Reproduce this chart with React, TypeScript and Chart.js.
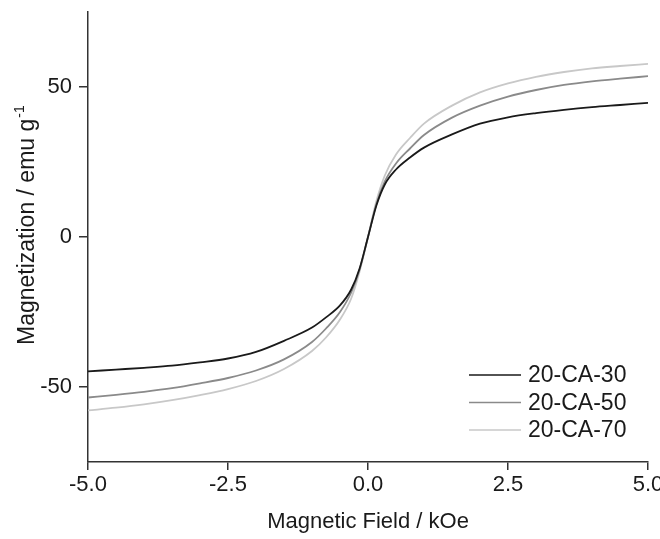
import React, { useEffect, useRef } from "react";
import { Chart, registerables } from "chart.js";

Chart.register(...registerables);

const FIELD = [-5, -4.5, -4, -3.5, -3, -2.5, -2, -1.5, -1, -0.75, -0.5, -0.3, -0.15, 0, 0.15, 0.3, 0.5, 0.75, 1, 1.5, 2, 2.5, 3, 3.5, 4, 4.5, 5];
const CA30 = [-44.8, -44.2, -43.6, -42.9, -41.8, -40.5, -38.3, -34.6, -30.2, -26.8, -22.8, -17.5, -10.5, 0, 10.5, 17.5, 22.5, 26.5, 29.8, 34.2, 37.8, 39.9, 41.3, 42.4, 43.3, 44.0, 44.7];
const CA50 = [-53.5, -52.6, -51.6, -50.4, -48.8, -47.0, -44.5, -40.8, -35.0, -30.5, -25.0, -18.5, -10.8, 0, 11, 18.5, 24.5, 29.5, 34, 39.8, 43.8, 46.8, 49, 50.7, 51.9, 52.8, 53.6];
const CA70 = [-57.8, -56.9, -55.8, -54.4, -52.7, -50.7, -48.0, -44.0, -38.0, -33.5, -27.5, -20.5, -11.5, 0, 12, 20.5, 27.5, 33, 37.8, 43.8, 48.2, 51.2, 53.4, 55.0, 56.2, 57.0, 57.7];
const SERIES_NAMES = ["20-CA-30", "20-CA-50", "20-CA-70"];
const X_TICKS = [-5, -2.5, 0, 2.5, 5];
const Y_TICKS = [-50, 0, 50];
const X_TITLE = "Magnetic Field / kOe";
const Y_TITLE = "Magnetization / emu g";
const Y_TITLE_SUP = "-1";

const FONT = '"Liberation Sans", Arial, sans-serif';
const TEXT = "#1a1a1a";
const AXIS = "#333333";
const COLORS = ["#1a1a1a", "#8a8a8a", "#c8c8c8"];

const overlay = {
  id: "overlay",
  afterDraw(chart: any) {
    const ctx = chart.ctx;
    const area = chart.chartArea;
    ctx.save();
    // x title
    ctx.fillStyle = TEXT;
    ctx.font = `22px ${FONT}`;
    ctx.textAlign = "center";
    ctx.textBaseline = "alphabetic";
    ctx.fillText(X_TITLE, (area.left + area.right) / 2, 528);
    // y title
    ctx.save();
    ctx.translate(34, 345);
    ctx.rotate(-Math.PI / 2);
    ctx.textAlign = "left";
    ctx.font = `23px ${FONT}`;
    ctx.fillText(Y_TITLE, 0, 0);
    const w = ctx.measureText(Y_TITLE).width;
    ctx.font = `14px ${FONT}`;
    ctx.fillText(Y_TITLE_SUP, w + 1, -10);
    ctx.restore();
    // legend
    chart.data.datasets.forEach((ds: any, i: number) => {
      const y = 375 + i * 27.5;
      ctx.strokeStyle = ds.borderColor;
      ctx.lineWidth = 1.6;
      ctx.beginPath();
      ctx.moveTo(469, y);
      ctx.lineTo(521, y);
      ctx.stroke();
      ctx.fillStyle = TEXT;
      ctx.font = `23px ${FONT}`;
      ctx.textAlign = "left";
      ctx.textBaseline = "middle";
      ctx.fillText(ds.label, 528, y + 1);
    });
    ctx.restore();
  },
};

export default function App() {
  const ref = useRef<HTMLCanvasElement | null>(null);
  useEffect(() => {
    document.body.style.margin = "0";
    const mk = (vals: number[]) => FIELD.map((x, i) => ({ x, y: vals[i] }));
    const chart = new Chart(ref.current!, {
      type: "line",
      data: {
        datasets: [CA30, CA50, CA70].map((vals, i) => ({
          label: SERIES_NAMES[i],
          data: mk(vals),
          borderColor: COLORS[i],
          borderWidth: 1.8,
          pointRadius: 0,
          fill: false,
          cubicInterpolationMode: "monotone" as const,
        })),
      },
      options: {
        animation: false,
        responsive: false,
        layout: { padding: { top: 12, right: 12, left: 0, bottom: 0 } },
        plugins: { legend: { display: false }, tooltip: { enabled: false } },
        scales: {
          x: {
            type: "linear",
            min: -5,
            max: 5,
            afterBuildTicks: (axis: any) => {
              axis.ticks = X_TICKS.map((v) => ({ value: v }));
            },
            afterFit: (s: any) => {
              s.height = 77;
              s.paddingLeft = 0;
              s.paddingRight = 0;
            },
            ticks: {
              color: TEXT,
              font: { family: FONT, size: 22 },
              padding: 2,
              maxRotation: 0,
              autoSkip: false,
              callback: (v: any) => Number(v).toFixed(1),
            },
            grid: { drawOnChartArea: false, color: AXIS, tickLength: 8, lineWidth: 1.5 },
            border: { display: true, color: AXIS, width: 1.5 },
          },
          y: {
            type: "linear",
            min: -75,
            max: 75,
            afterBuildTicks: (axis: any) => {
              axis.ticks = Y_TICKS.map((v) => ({ value: v }));
            },
            afterFit: (s: any) => {
              s.width = 88;
              s.paddingTop = 0;
              s.paddingBottom = 0;
            },
            ticks: {
              color: TEXT,
              font: { family: FONT, size: 22 },
              padding: 7,
              autoSkip: false,
            },
            grid: { drawOnChartArea: false, color: AXIS, tickLength: 9, lineWidth: 1.5 },
            border: { display: true, color: AXIS, width: 1.5 },
          },
        },
      },
      plugins: [overlay],
    });
    return () => chart.destroy();
  }, []);
  return (
    <div style={{ width: 660, height: 539 }}>
      <canvas ref={ref} width={660} height={539} style={{ display: "block" }} />
    </div>
  );
}
